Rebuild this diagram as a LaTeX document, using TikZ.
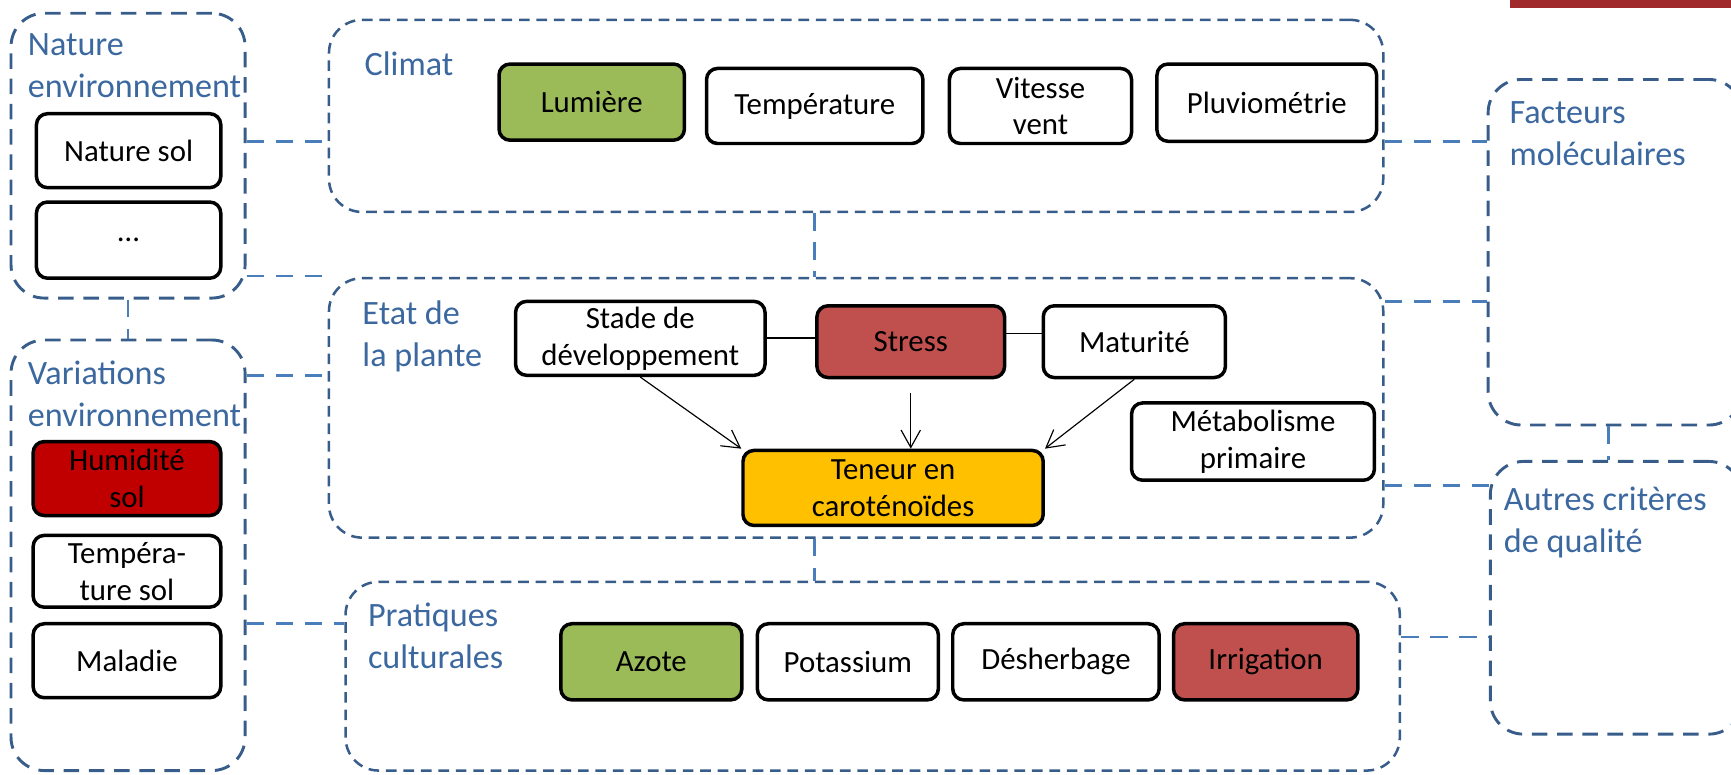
\documentclass[tikz,border=0pt]{standalone}
\usepackage{fontspec}
\setmainfont{Carlito}
\usetikzlibrary{arrows.meta,positioning,fit}

\definecolor{grpline}{HTML}{385D8A}
\definecolor{grptext}{HTML}{3C68A0}
\definecolor{linkblue}{HTML}{4A7EBB}
\definecolor{leafgreen}{HTML}{9BBB59}
\definecolor{stressred}{HTML}{C0504D}
\definecolor{soilred}{HTML}{C00000}
\definecolor{carot}{HTML}{FFC000}
\definecolor{barred}{HTML}{A0292B}

\begin{document}
\begin{tikzpicture}[x=0.02cm, y=-0.02cm,
    grp/.style={draw=grpline, line width=1.5pt, dash pattern=on 8pt off 5pt, rounded corners=0.6cm, inner sep=0pt},
    biggrp/.style={grp, line width=1.3pt, dash pattern=on 5.5pt off 3.5pt},
    title/.style={anchor=north west, inner sep=0pt, align=left, text=grptext, font=\fontsize{17.6}{21.5}\selectfont},
    item/.style={draw, line width=1.8pt, rounded corners=0.2cm, fill=white, inner sep=0pt, align=center,
        minimum width=3.36cm, minimum height=1.36cm, font=\fontsize{15.9}{19}\selectfont},
    linkline/.style={draw=linkblue, line width=1.4pt, dash pattern=on 9pt off 6pt},
    infl/.style={-{Straight Barb[length=9pt,width=10pt]}, line width=0.6pt}
]
    \useasboundingbox (0,0) rectangle (1568,702);

    % Groups
    \node[grp, fit={(10,12) (222,270)}] (ne) {};
    \node[grp, fit={(10,308) (222,698)}] (ve) {};
    \node[biggrp, fit={(298,18) (1253,192)}] (cl) {};
    \node[biggrp, fit={(298,252) (1253,487)}] (ep) {};
    \node[biggrp, fit={(313,527) (1268,698)}] (pc) {};
    \node[grp, fit={(1348,72) (1578,385)}] (fm) {};
    \node[grp, fit={(1350,418) (1578,665)}] (ac) {};
    \fill[barred] (1368,0) rectangle (1575,7);

    \node[title] (ne-t) at (25,30) {Nature\\environnement};
    \node[title] (ve-t) at (25,327) {Variations\\environnement};
    \node[title] (cl-t) at (330,47) {Climat};
    \node[title] (ep-t) at (328,272) {Etat de\\la plante};
    \node[title] (pc-t) at (333,546) {Pratiques\\culturales};
    \node[title] (fm-t) at (1367,92) {Facteurs\\moléculaires};
    \node[title] (ac-t) at (1362,441) {Autres critères\\de qualité};

    % Nature / variations environnement
    \node[item, minimum width=3.34cm, minimum height=1.34cm] (nsol) at (116.5,136.5) {Nature sol};
    \node[item, minimum width=3.34cm, minimum height=1.38cm] (ndots) at (116.5,217.5) {…};
    \node[item, fill=soilred, minimum width=3.4cm, minimum height=1.34cm] (hum) at (115,433.5) {Humidité\\sol};
    \node[item, minimum width=3.4cm, minimum height=1.3cm] (tsol) at (115,517.5) {Tempéra-\\ture sol};
    \node[item, minimum width=3.4cm, minimum height=1.34cm] (mal) at (115,598.5) {Maladie};

    % Climat
    \node[item, fill=leafgreen, minimum height=1.38cm] (lum) at (536,92.5) {Lumière};
    \node[item, minimum width=3.92cm] (temp) at (738,96) {Température};
    \node[item, minimum width=3.3cm] (vit) at (942.5,96) {Vitesse\\vent};
    \node[item, minimum width=3.98cm, minimum height=1.4cm] (pluv) at (1147.5,93) {Pluviométrie};

    % Etat de la plante
    \node[item, minimum width=4.52cm, minimum height=1.34cm] (stade) at (580,306.5) {Stade de\\développement};
    \node[item, fill=stressred, minimum width=3.4cm, minimum height=1.3cm] (stress) at (825,309.5) {Stress};
    \node[item, minimum width=3.3cm, minimum height=1.3cm] (matu) at (1027.5,309.5) {Maturité};
    \node[item, minimum width=4.4cm, minimum height=1.4cm] (meta) at (1135,400) {Métabolisme\\primaire};
    \node[item, fill=carot, minimum width=5.44cm] (ten) at (809,442) {Teneur en\\caroténoïdes};

    % Pratiques culturales
    \node[item, fill=leafgreen, minimum width=3.28cm, minimum height=1.38cm] (azo) at (590,599.5) {Azote};
    \node[item, minimum width=3.28cm, minimum height=1.38cm] (pot) at (768,599.5) {Potassium};
    \node[item, minimum width=3.74cm, minimum height=1.38cm] (des) at (956.5,599.5) {Désherbage};
    \node[item, fill=stressred, minimum width=3.34cm, minimum height=1.38cm] (irr) at (1146.5,599.5) {Irrigation};

    % Links between groups
    \draw[linkline] (ne.east |- 0,128) -- (cl.west |- 0,128);
    \draw[linkline] (ne.east |- 0,250) -- (ep.west |- 0,250);
    \draw[linkline] (ve.east |- 0,340) -- (ep.west |- 0,340);
    \draw[linkline] (ve.east |- 0,565) -- (pc.west |- 0,565);
    \draw[linkline] (ne.south -| 116,0) -- (ve.north -| 116,0);
    \draw[linkline] (cl.south -| 738,0) -- (ep.north -| 738,0);
    \draw[linkline] (ep.south -| 738,0) -- (pc.north -| 738,0);
    \draw[linkline] (cl.east |- 0,128) -- (fm.west |- 0,128);
    \draw[linkline] (ep.east |- 0,273) -- (fm.west |- 0,273);
    \draw[linkline] (ep.east |- 0,440) -- (ac.west |- 0,440);
    \draw[linkline] (pc.east |- 0,577) -- (ac.west |- 0,577);
    \draw[linkline] (fm.south -| 1457,0) -- (ac.north -| 1457,0);

    % Influences on carotenoid content
    \draw[line width=0.9pt] (stade.east) -- (stade.east -| stress.west);
    \draw[line width=0.9pt] (stress.east |- 0,302) -- (matu.west |- 0,302);
    \draw[infl] (stade.south) -- (ten.north west);
    \draw[infl] ([yshift=-0.25cm]stress.south) -- (stress.south |- ten.north);
    \draw[infl] (matu.south) -- (ten.north east);
\end{tikzpicture}
\end{document}
